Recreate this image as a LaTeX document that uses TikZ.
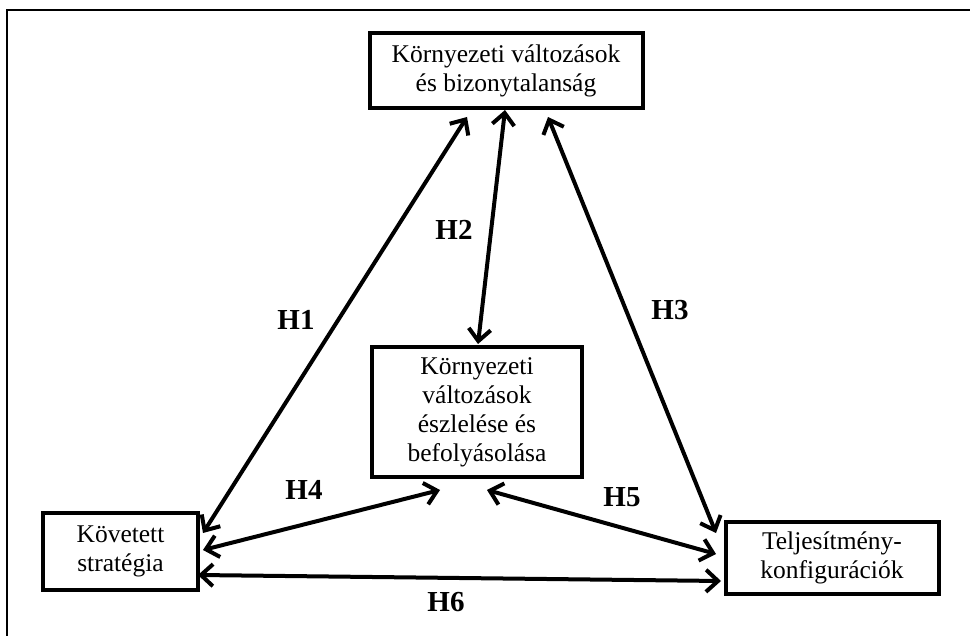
\documentclass[tikz,border=0pt]{standalone}
\usepackage{fontspec}
\setmainfont{Liberation Serif}
\usetikzlibrary{arrows.meta}
\begin{document}
\begin{tikzpicture}[x=1pt,y=-1pt,
  box/.style={draw=black,line width=4pt,inner sep=0pt,align=center,
    font=\fontsize{25.5}{29}\selectfont},
  rel/.style={line width=4pt,{Straight Barb[length=12pt,width=22pt]}-{Straight Barb[length=12pt,width=22pt]}},
  hlab/.style={font=\fontsize{29}{32}\selectfont\bfseries}]
\useasboundingbox (0,0) rectangle (970,636);
\draw[line width=2pt] (7,650) -- (7,10) -- (980,10);

\node[box,minimum width=273pt,minimum height=75pt] (env) at (506,70.5)
  {Környezeti változások\\és bizonytalanság};
\node[box,minimum width=210pt,minimum height=130pt] (perc) at (477,412)
  {Környezeti\\változások\\észlelése és\\befolyásolása};
\node[box,minimum width=155pt,minimum height=77pt] (strat) at (120.5,551.5)
  {Követett\\stratégia};
\node[box,minimum width=213pt,minimum height=72pt] (perf) at (832,558)
  {Teljesítmény-\\konfigurációk};

\coordinate (h1a) at (467,117);
\coordinate (h1b) at (203,533);
\coordinate (h2a) at (505,110);
\coordinate (h2b) at (478,344);
\coordinate (h3a) at (548,117);
\coordinate (h3b) at (716,533);
\coordinate (h4a) at (203,550);
\coordinate (h4b) at (440,490);
\coordinate (h5a) at (487,490);
\coordinate (h5b) at (716,554);
\coordinate (h6a) at (198,575);
\coordinate (h6b) at (721,581);

\draw[rel] (h1a) -- (h1b);
\draw[rel] (h2a) -- (h2b);
\draw[rel] (h3a) -- (h3b);
\draw[rel] (h4a) -- (h4b);
\draw[rel] (h5a) -- (h5b);
\draw[rel] (h6a) -- (h6b);

\node[hlab] (l1) at (296,320) {H1};
\node[hlab] (l2) at (454,230) {H2};
\node[hlab] (l3) at (670,310) {H3};
\node[hlab] (l4) at (304,490) {H4};
\node[hlab] (l5) at (622,497) {H5};
\node[hlab] (l6) at (446,602) {H6};
\end{tikzpicture}
\end{document}
